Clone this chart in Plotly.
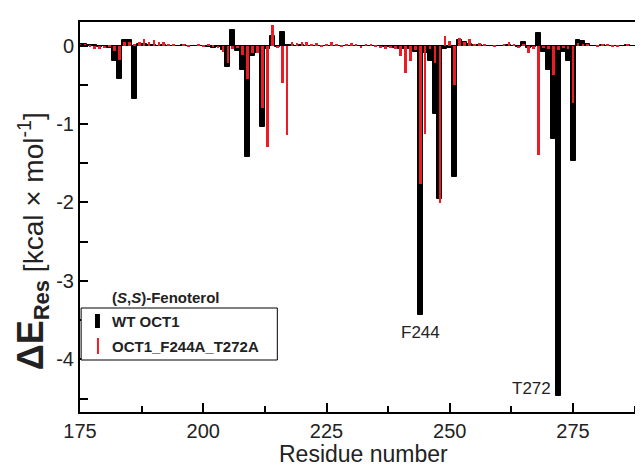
import plotly.graph_objects as go

# ---- data ----
residues = list(range(175, 291))

wt_oct1 = [
    0.02, 0.02, 0.01, 0.01, -0.02, -0.01, -0.03, -0.20, -0.43, 0.07,   # 175-184
    0.07, -0.68, 0.02, 0.02, 0.01, 0.01, 0.00, 0.01, 0.00, -0.01,      # 185-194
    0.00, 0.01, 0.00, -0.01, 0.00, -0.01, -0.02, -0.03, -0.02, -0.06,  # 195-204
    -0.27, 0.20, -0.07, -0.31, -1.42, -0.13, -0.10, -1.04, -0.05, 0.12,  # 205-214
    -0.02, 0.17, 0.01, 0.01, 0.00, 0.01, 0.00, 0.00, -0.01, 0.00,      # 215-224
    0.00, -0.01, 0.00, 0.00, -0.01, 0.00, 0.00, -0.01, 0.00, 0.00,     # 225-234
    -0.01, -0.01, -0.02, -0.02, -0.03, -0.05, -0.04, -0.05, -0.08, -3.43,  # 235-244
    -0.10, -0.20, -0.87, -1.96, -0.04, -0.03, -1.67, 0.07, 0.05, 0.02,  # 245-254
    0.01, 0.01, 0.00, 0.00, 0.00, -0.01, 0.00, 0.01, 0.00, -0.02,      # 255-264
    0.05, -0.03, -0.02, 0.16, -0.08, -0.31, -1.19, -4.46, -0.08, -0.20,  # 265-274
    -1.47, 0.07, 0.06, 0.02, 0.00, 0.00, 0.01, 0.00, -0.01, 0.00,      # 275-284
    0.00, 0.01, 0.00, 0.00, 0.00, 0.00,                                # 285-290
]

oct1_f244a_t272a = [
    0.01, 0.02, -0.02, -0.04, -0.05, -0.03, -0.02, -0.07, -0.18, 0.05,  # 175-184
    0.04, 0.02, 0.05, 0.08, 0.04, 0.07, 0.05, 0.04, 0.02, 0.01,        # 185-194
    0.00, 0.01, -0.01, 0.00, 0.01, -0.01, 0.02, -0.02, -0.03, -0.08,   # 195-204
    -0.22, -0.05, -0.03, -0.12, -0.43, -0.10, -0.10, -0.80, -1.29, 0.26,  # 205-214
    -0.03, -0.48, -1.14, 0.04, 0.03, 0.05, 0.04, 0.02, 0.03, -0.02,    # 215-224
    0.02, 0.04, 0.02, -0.02, 0.01, 0.03, 0.02, -0.03, 0.01, 0.02,      # 225-234
    -0.02, -0.03, -0.05, -0.03, -0.05, -0.13, -0.35, -0.20, -0.06, -1.77,  # 235-244
    -1.13, -0.05, -0.22, -2.01, 0.12, 0.06, -0.50, 0.10, 0.05, 0.08,   # 245-254
    0.02, 0.03, 0.01, 0.00, -0.02, 0.00, 0.02, 0.05, 0.01, -0.03,      # 255-264
    0.02, -0.10, -0.04, -1.39, -0.03, -0.05, -0.37, -0.06, -0.03, -0.04,  # 265-274
    -0.73, 0.03, 0.02, 0.01, 0.00, -0.01, 0.01, 0.02, -0.01, -0.02,    # 275-284
    0.00, 0.01, 0.00, -0.01, 0.00, 0.00,                               # 285-290
]

x_ticks = [175, 200, 225, 250, 275]
y_ticks = [0, -1, -2, -3, -4]
y_tick_text = ["0", "-1", "-2", "-3", "-4"]

labels = [("F244", 244, -3.66), ("T272", 272, -4.37)]

FONT = "Liberation Sans, Arial, Helvetica, sans-serif"
RED = "#ec1c24"
TXT = "#222222"

# plot-area geometry (pixels)
TOP, BOTTOM = 14, 404
H = BOTTOM - TOP


def py(pix):
    """pixel row -> paper y"""
    return (BOTTOM - pix) / H


fig = go.Figure()
fig.add_trace(go.Bar(
    x=residues, y=wt_oct1, width=1.0, name="WT OCT1",
    marker=dict(color="black", line=dict(color="black", width=1)),
    showlegend=False,
))
fig.add_trace(go.Bar(
    x=residues, y=oct1_f244a_t272a, width=0.55, name="OCT1_F244A_T272A",
    marker=dict(color=RED, line=dict(width=0)),
    showlegend=False,
))

fig.update_layout(
    width=643, height=465,
    margin=dict(l=72, r=2, t=TOP, b=465 - BOTTOM),
    paper_bgcolor="white", plot_bgcolor="white",
    barmode="overlay", bargap=0,
    font=dict(family=FONT, size=20, color=TXT),
)

fig.update_xaxes(
    range=[175, 290], tickvals=x_ticks,
    ticks="inside", ticklen=9, tickwidth=2, tickcolor="black",
    minor=dict(tickvals=[187.5, 212.5, 237.5, 262.5, 287.5], ticks="inside",
               ticklen=6, tickwidth=2, tickcolor="black"),
    showline=True, linecolor="black", linewidth=2, mirror=True,
    showgrid=False, zeroline=False,
    tickfont=dict(size=20, color=TXT),
)
fig.update_yaxes(
    range=[-4.67, 0.3], tickvals=y_ticks, ticktext=y_tick_text,
    ticks="inside", ticklen=8, tickwidth=2, tickcolor="black",
    minor=dict(tickvals=[-0.5, -1.5, -2.5, -3.5, -4.5], ticks="inside",
               ticklen=8, tickwidth=2, tickcolor="black"),
    showline=True, linecolor="black", linewidth=2, mirror=True,
    showgrid=False, zeroline=True, zerolinecolor="black", zerolinewidth=1,
    tickfont=dict(size=20, color=TXT),
)

annotations = []
# axis titles
annotations.append(dict(
    text="Residue number", xref="paper", yref="paper", x=0.5, y=py(446),
    xanchor="center", yanchor="middle", showarrow=False,
    font=dict(size=23, color=TXT),
))
annotations.append(dict(
    text=("<span style='font-size:36px'><b>ΔE</b></span>"
          "<b><sub><span style='font-size:22px'>Res</span></sub></b>"
          " [kcal × mol<sup>-1</sup>]"),
    xref="paper", yref="paper", x=(24 - 72) / 569, y=py(233), textangle=-90,
    xanchor="center", yanchor="middle", showarrow=False,
    font=dict(size=28, color=TXT),
))
# residue labels
annotations.append(dict(text=labels[0][0], x=labels[0][1], y=labels[0][2],
                        xref="x", yref="y", showarrow=False,
                        xanchor="center", yanchor="middle",
                        font=dict(size=17, color=TXT)))
annotations.append(dict(text=labels[1][0], x=labels[1][1], y=labels[1][2],
                        xref="x", yref="y", showarrow=False,
                        xanchor="right", yanchor="middle", xshift=-5,
                        font=dict(size=17, color=TXT)))
# legend
annotations.append(dict(text="<b>(<i>S</i>,<i>S</i>)-Fenoterol</b>",
                        xref="paper", yref="paper", x=0.053, y=py(289),
                        xanchor="left", yanchor="middle", showarrow=False,
                        font=dict(size=15, color=TXT)))
annotations.append(dict(text="<b>WT OCT1</b>",
                        xref="paper", yref="paper", x=0.053, y=py(313),
                        xanchor="left", yanchor="middle", showarrow=False,
                        font=dict(size=15, color=TXT)))
annotations.append(dict(text="<b>OCT1_F244A_T272A</b>",
                        xref="paper", yref="paper", x=0.053, y=py(338),
                        xanchor="left", yanchor="middle", showarrow=False,
                        font=dict(size=15, color=TXT)))

shapes = [
    dict(type="rect", xref="paper", yref="paper", x0=0.002, x1=0.348,
         y0=py(352), y1=py(300), line=dict(color="black", width=1),
         fillcolor="white", layer="above"),
    dict(type="rect", xref="paper", yref="paper", x0=0.0264, x1=0.0352,
         y0=py(320), y1=py(306), line=dict(width=0), fillcolor="black", layer="above"),
    dict(type="rect", xref="paper", yref="paper", x0=0.0299, x1=0.0334,
         y0=py(346), y1=py(330), line=dict(width=0), fillcolor=RED, layer="above"),
]

fig.update_layout(annotations=annotations, shapes=shapes)

fig.write_html("out.html")
